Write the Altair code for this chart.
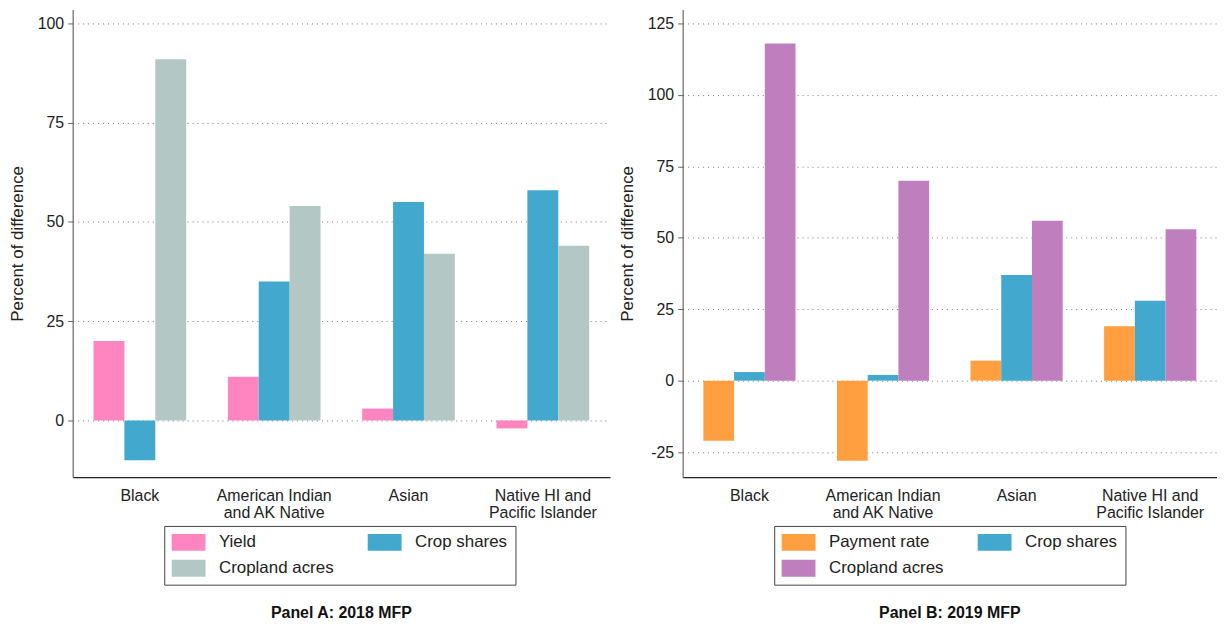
import altair as alt
import pandas as pd

groups = ["Black", "American Indian|and AK Native", "Asian", "Native HI and|Pacific Islander"]

series_a = ["Yield", "Crop shares", "Cropland acres"]
yield_a = [20, 11, 3, -2]
crop_shares_a = [-10, 35, 55, 58]
cropland_a = [91, 54, 42, 44]
colors_a = ["#FF85C0", "#42A8CD", "#B3C8C4"]

series_b = ["Payment rate", "Crop shares", "Cropland acres"]
payment_b = [-21, -28, 7, 19]
crop_shares_b = [3, 2, 37, 28]
cropland_b = [118, 70, 56, 53]
colors_b = ["#FF9F40", "#42A8CD", "#BF7FBF"]

FONT = "Liberation Sans"


def make_df(series, cols):
    rows = []
    for s, vals in zip(series, cols):
        for g, v in zip(groups, vals):
            rows.append({"group": g, "series": s, "value": v})
    return pd.DataFrame(rows)


df_a = make_df(series_a, [yield_a, crop_shares_a, cropland_a])
df_b = make_df(series_b, [payment_b, crop_shares_b, cropland_b])

SYMBOL = "M-2,-1L2,-1L2,1L-2,1Z"


def panel(df, series, colors, domain, ticks, title, width):
    return alt.Chart(df).mark_bar().encode(
        x=alt.X("group:N", sort=groups,
                scale=alt.Scale(paddingInner=0.31, paddingOuter=0.155),
                axis=alt.Axis(title=None, ticks=False, labelAngle=0,
                              labelExpr="split(datum.label, '|')",
                              labelPadding=10, labelFontSize=16, labelColor="#222",
                              labelLineHeight=18, labelFont=FONT,
                              domainColor="#222", domainWidth=1.2, grid=False)),
        xOffset=alt.XOffset("series:N", sort=series, scale=alt.Scale(paddingInner=0, paddingOuter=0)),
        y=alt.Y("value:Q", scale=alt.Scale(domain=domain, nice=False, zero=False),
                axis=alt.Axis(values=ticks, title="Percent of difference",
                              labelExpr="datum.value < 0 ? '-' + abs(datum.value) : '' + datum.value",
                              labelFontSize=16, labelColor="#222", labelFont=FONT, labelPadding=4,
                              titleFontSize=17, titleFontWeight="normal", titleColor="#222",
                              titleFont=FONT, titlePadding=11,
                              tickColor="#666", tickSize=5, domainColor="#666", domainWidth=1.2,
                              grid=True, gridDash=[1, 4], gridColor="#777", gridWidth=1)),
        color=alt.Color("series:N", sort=series,
                        scale=alt.Scale(domain=series, range=colors),
                        legend=alt.Legend(title=None, orient="none", legendX=92, legendY=519,
                                          direction="horizontal", columns=2,
                                          symbolType=SYMBOL, symbolSize=289, symbolStrokeWidth=0,
                                          symbolOffset=8, labelOffset=22,
                                          labelFontSize=17, labelColor="#222", labelFont=FONT,
                                          columnPadding=33, rowPadding=8, padding=8,
                                          strokeColor="#444", fillColor="white")),
    ).properties(
        width=width, height=470,
        title=alt.TitleParams(title, orient="bottom", anchor="middle", frame="group",
                              fontSize=16, fontWeight="bold", font=FONT, color="#111", offset=20),
    )


chart_a = panel(df_a, series_a, colors_a, [-14.29, 103.5], [0, 25, 50, 75, 100], "Panel A: 2018 MFP", 540)
chart_b = panel(df_b, series_b, colors_b, [-33.8, 129.9], [-25, 0, 25, 50, 75, 100, 125], "Panel B: 2019 MFP", 537)

chart = alt.hconcat(chart_a, chart_b, spacing=8).resolve_scale(
    color="independent", y="independent", x="independent", xOffset="independent"
).resolve_legend(color="independent").properties(
    padding={"left": 0, "top": 0, "right": 0, "bottom": 0}
).configure(background="white", view=alt.ViewConfig(stroke="transparent", strokeWidth=0))

chart.save("out.html", embed_options={"renderer": "svg", "actions": False})
